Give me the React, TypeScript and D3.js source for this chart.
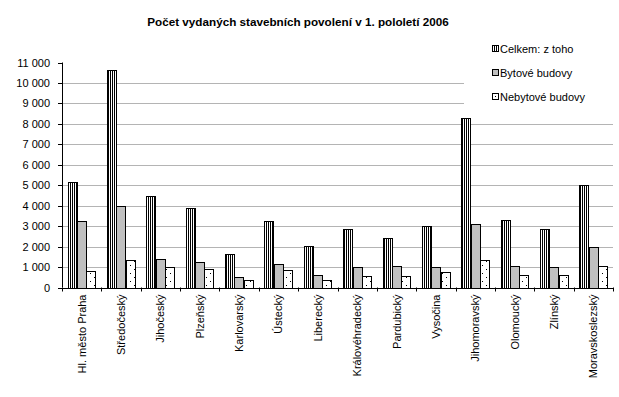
import * as d3 from "d3";

const regions = [
  "Hl. město Praha",
  "Středočeský",
  "Jihočeský",
  "Plzeňský",
  "Karlovarský",
  "Ústecký",
  "Liberecký",
  "Královéhradecký",
  "Pardubický",
  "Vysočina",
  "Jihomoravský",
  "Olomoucký",
  "Zlínský",
  "Moravskoslezský",
];
const seriesNames = ["Celkem: z toho", "Bytové budovy", "Nebytové budovy"];
const celkem = [5170, 10650, 4450, 3870, 1660, 3270, 2050, 2880, 2440, 3020, 8290, 3320, 2880, 5020];
const bytove = [3270, 3970, 1410, 1240, 520, 1170, 630, 1020, 1070, 980, 3120, 1070, 980, 2000];
const nebytove = [800, 1330, 980, 890, 390, 880, 360, 540, 540, 780, 1330, 630, 630, 1070];
const yTicks = [0, 1000, 2000, 3000, 4000, 5000, 6000, 7000, 8000, 9000, 10000, 11000];

const fills = ["url(#stripes)", "#c0c0c0", "url(#dots)"];
const font = "Arial, 'Liberation Sans', sans-serif";

const App = () => {
  const W = 619;
  const H = 397;
  const left = 62;
  const right = 613;
  const top = 62.5;
  const bottom = 287.5;

  const x = d3.scaleBand().domain(regions).range([left, right]).paddingInner(0).paddingOuter(0);
  const inner = d3.scaleBand().domain(seriesNames).range([0, 28]);
  const offset = (x.bandwidth() - 28) / 2;
  const y = d3.scaleLinear().domain([0, 11000]).range([bottom, top]);
  const fmt = (v: number) => d3.format(",")(v).replace(/,/g, " ");
  const series = [celkem, bytove, nebytove];

  return (
    <svg width={W} height={H} style={{ position: "absolute", left: 0, top: 0, background: "#fff" }}>
      <defs>
        <pattern id="stripes" width={2} height={4} patternUnits="userSpaceOnUse">
          <rect width={2} height={4} fill="#fff" />
          <rect width={1} height={4} fill="#000" />
        </pattern>
        <pattern id="dots" width={8} height={8} patternUnits="userSpaceOnUse">
          <rect width={8} height={8} fill="#fff" />
          <rect x={2} y={1} width={1} height={1} fill="#000" />
          <rect x={6} y={5} width={1} height={1} fill="#000" />
        </pattern>
      </defs>

      <text x={298} y={26} textAnchor="middle" fontFamily={font} fontWeight="bold" fontSize={11.7}>
        Počet vydaných stavebních povolení v 1. pololetí 2006
      </text>

      {/* gridlines */}
      {yTicks.slice(1, -1).map((t) => (
        <line key={t} x1={left} x2={right} y1={Math.round(y(t)) + 0.5} y2={Math.round(y(t)) + 0.5} stroke="#b4b4b4" />
      ))}

      {/* bars */}
      {regions.map((r, i) =>
        series.map((s, j) => {
          const bx = Math.round((x(r) ?? 0) + offset + (inner(seriesNames[j]) ?? 0));
          const by = Math.round(y(s[i]));
          return (
            <rect
              key={r + j}
              x={bx + 0.5}
              y={by + 0.5}
              width={Math.round(inner.bandwidth())}
              height={Math.round(bottom) - by}
              fill={fills[j]}
              stroke="#000"
              strokeWidth={1}
            />
          );
        })
      )}

      {/* y axis */}
      <line x1={left + 0.5} x2={left + 0.5} y1={top} y2={bottom} stroke="#000" />
      {yTicks.map((t) => (
        <g key={t}>
          <line x1={left - 4} x2={left} y1={Math.round(y(t)) + 0.5} y2={Math.round(y(t)) + 0.5} stroke="#000" />
          <text x={left - 12} y={y(t) + 4} textAnchor="end" fontFamily={font} fontSize={11}>
            {fmt(t)}
          </text>
        </g>
      ))}

      {/* x axis */}
      <line x1={left} x2={right} y1={Math.round(bottom) + 0.5} y2={Math.round(bottom) + 0.5} stroke="#000" />
      {[...regions.map((r) => x(r) ?? 0), right].map((tx, i) => (
        <line key={i} x1={Math.round(tx) + 0.5} x2={Math.round(tx) + 0.5} y1={bottom} y2={bottom + 4} stroke="#000" />
      ))}
      {regions.map((r) => {
        const cx = (x(r) ?? 0) + x.bandwidth() / 2 + 4;
        return (
          <text
            key={r}
            transform={`translate(${cx},${bottom + 7}) rotate(-90)`}
            textAnchor="end"
            fontFamily={font}
            fontSize={11}
          >
            {r}
          </text>
        );
      })}

      {/* legend */}
      <rect x={464} y={36} width={155} height={76} fill="#fff" />
      {seriesNames.map((n, j) => (
        <g key={n} transform={`translate(492,${45 + j * 24})`}>
          <rect x={0.5} y={0.5} width={6} height={6} fill={j === 2 ? "#fff" : fills[j]} stroke="#000" />
          {j === 2 && <rect x={3} y={3} width={1} height={1} fill="#000" />}
          <text x={8} y={8} fontFamily={font} fontSize={11}>
            {n}
          </text>
        </g>
      ))}
    </svg>
  );
};

export default App;
